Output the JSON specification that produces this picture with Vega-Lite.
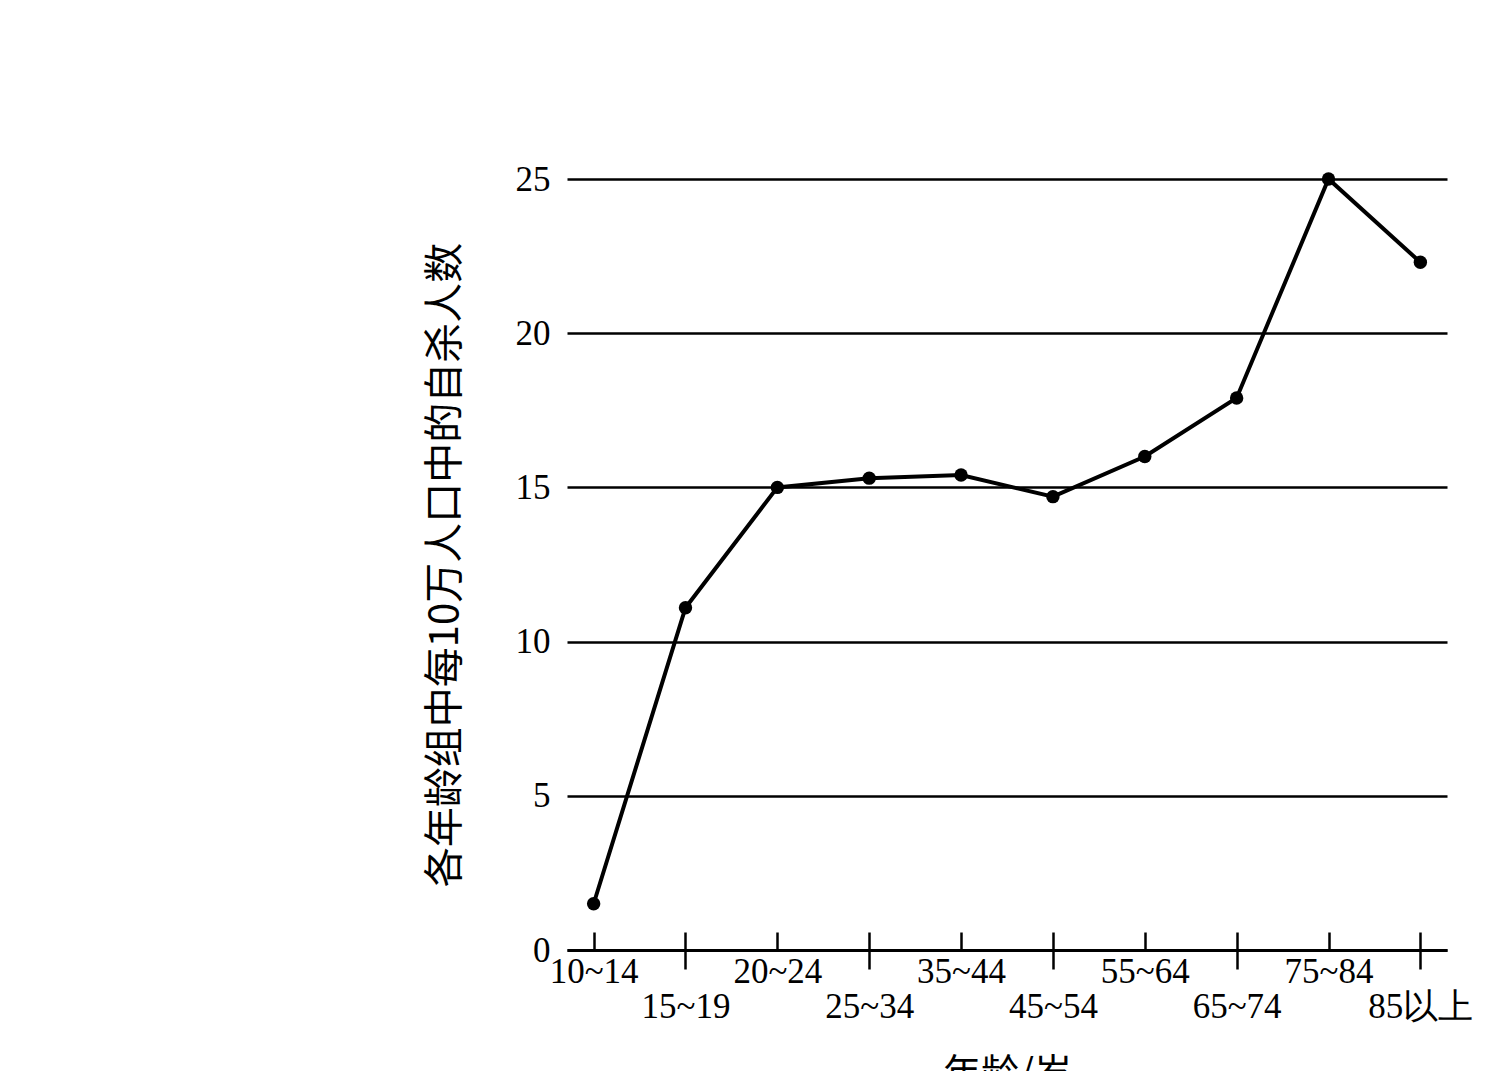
{
  "$schema": "https://vega.github.io/schema/vega-lite/v6.json",
  "width": 880,
  "height": 771,
  "autosize": {"type": "none"},
  "padding": {"left": 567, "top": 179, "right": 40, "bottom": 121},
  "background": "white",
  "config": {"view": {"stroke": null}},
  "data": {
    "values": [
      {"age": "10~14", "rate": 1.5},
      {"age": "15~19", "rate": 11.1},
      {"age": "20~24", "rate": 15.0},
      {"age": "25~34", "rate": 15.3},
      {"age": "35~44", "rate": 15.4},
      {"age": "45~54", "rate": 14.7},
      {"age": "55~64", "rate": 16.0},
      {"age": "65~74", "rate": 17.9},
      {"age": "75~84", "rate": 25.0},
      {"age": "85以上", "rate": 22.3}
    ]
  },
  "resolve": {"axis": {"x": "independent"}},
  "layer": [
    {
      "mark": {"type": "line", "color": "black", "strokeWidth": 4, "clip": false},
      "encoding": {
        "x": {
          "field": "age", "type": "ordinal", "sort": null,
          "scale": {"type": "point", "padding": 0.29},
          "axis": {
            "orient": "bottom",
            "title": "年龄/岁",
            "titleFont": "Noto Sans CJK SC", "titleFontSize": 38, "titleFontWeight": "normal", "titleColor": "black",
            "titlePadding": 31,
            "offset": -18,
            "domain": false,
            "ticks": true, "tickSize": 18, "tickWidth": 2.5, "tickColor": "black",
            "labelAngle": 0,
            "labelFont": "Liberation Serif", "labelFontSize": 35, "labelColor": "black",
            "labelPadding": 4, "labelBaseline": "top", "labelLineHeight": 35,
            "labelExpr": "indexof(['15~19','25~34','45~54','65~74','85以上'], datum.label) >= 0 ? ['', datum.label] : datum.label",
            "grid": false
          }
        },
        "y": {
          "field": "rate", "type": "quantitative",
          "scale": {"domain": [0, 25], "nice": false, "zero": true},
          "axis": {
            "title": "各年龄组中每10万人口中的自杀人数",
            "titleFont": "Noto Sans CJK SC", "titleFontSize": 40, "titleFontWeight": "normal", "titleColor": "black",
            "titlePadding": 50,
            "values": [0, 5, 10, 15, 20, 25],
            "domain": false, "ticks": false,
            "labelFont": "Liberation Serif", "labelFontSize": 35, "labelColor": "black", "labelPadding": 17,
            "grid": true, "gridColor": "black", "gridWidth": 2.4, "gridOpacity": 1
          }
        }
      }
    },
    {
      "mark": {"type": "point", "filled": true, "color": "black", "size": 180, "opacity": 1, "clip": false},
      "encoding": {
        "x": {
          "field": "age", "type": "ordinal", "sort": null,
          "axis": {
            "orient": "bottom",
            "title": null,
            "values": ["15~19", "25~34", "45~54", "65~74", "85以上"],
            "domain": true, "domainColor": "black", "domainWidth": 3,
            "ticks": true, "tickSize": 19, "tickWidth": 2.5, "tickColor": "black",
            "labels": false, "grid": false
          }
        },
        "y": {
          "field": "rate", "type": "quantitative",
          "axis": {
            "title": "各年龄组中每10万人口中的自杀人数",
            "titleFont": "Noto Sans CJK SC", "titleFontSize": 40, "titleFontWeight": "normal", "titleColor": "black",
            "titlePadding": 50,
            "values": [0, 5, 10, 15, 20, 25],
            "domain": false, "ticks": false,
            "labelFont": "Liberation Serif", "labelFontSize": 35, "labelColor": "black", "labelPadding": 17,
            "grid": true, "gridColor": "black", "gridWidth": 2.4, "gridOpacity": 1
          }
        }
      }
    }
  ]
}
